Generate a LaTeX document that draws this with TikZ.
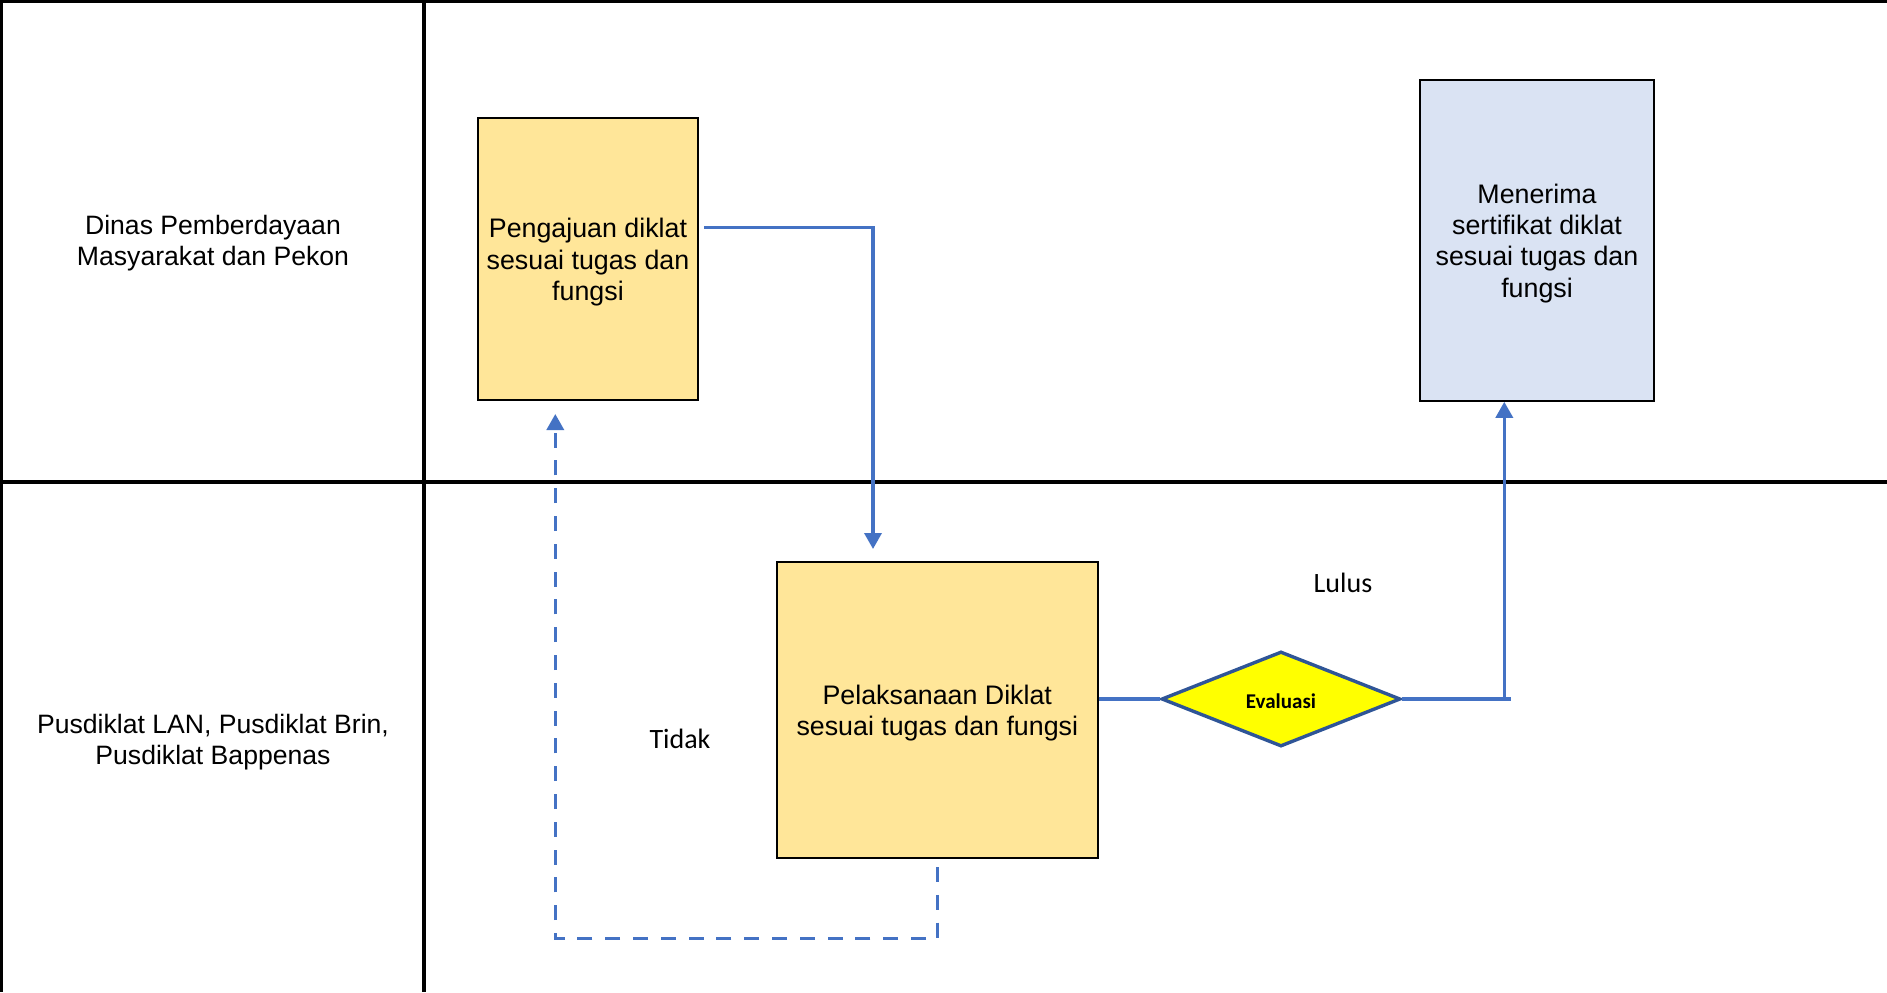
\documentclass[tikz,border=0pt]{standalone}
\usepackage{fontspec}
\setmainfont{Liberation Sans}
\newfontfamily\califont{Carlito}
\usetikzlibrary{shapes.geometric,arrows.meta}
\definecolor{boxyellow}{HTML}{FFE699}
\definecolor{boxblue}{HTML}{DAE3F3}
\definecolor{connblue}{HTML}{4472C4}
\definecolor{darkblue}{HTML}{2F5597}
\definecolor{diayellow}{HTML}{FFFF00}
\newcommand\toppad{\rule{0pt}{12.8pt}}
\tikzset{
  laneline/.style={draw=black,line width=1.6pt},
  lanelabel/.style={align=center,font=\fontsize{13.3pt}{15.6pt}\selectfont,inner sep=0pt},
  procbox/.style={draw=black,line width=1.1pt,align=center,inner sep=0pt,
    font=\fontsize{13.4pt}{15.6pt}\selectfont},
  decision/.style={diamond,draw=darkblue,fill=diayellow,line width=1.7pt,inner sep=0pt,
    minimum width=119.5pt,minimum height=47.5pt,font=\califont\bfseries\fontsize{10.5pt}{12pt}\selectfont},
  conn/.style={draw=connblue,line width=1.75pt},
  arr/.style={conn,-{Triangle[width=8.5pt,length=8pt]}},
  dasharr/.style={arr,dash pattern=on 7.5pt off 6.4pt},
  note/.style={font=\califont\fontsize{14pt}{16pt}\selectfont,inner sep=0pt}
}
\begin{document}
\begin{tikzpicture}[x=0.5pt,y=-0.5pt]
\useasboundingbox (0,0) rectangle (1887,992);
\fill[white] (0,0) rectangle (1887,992);
% lanes
\draw[laneline] (0,1.6) -- (1887,1.6);
\draw[laneline] (1.6,0) -- (1.6,992);
\draw[laneline] (424,0) -- (424,992);
\draw[laneline] (0,482) -- (1887,482);
\node[lanelabel] (lane1) at (213,243.5) {Dinas Pemberdayaan\\Masyarakat dan Pekon};
\node[lanelabel] (lane2) at (213,742) {Pusdiklat LAN, Pusdiklat Brin,\\Pusdiklat Bappenas};
% process boxes
\node[procbox,fill=boxyellow,minimum width=110.2pt,minimum height=141pt] (b1) at (588,259)
  {\toppad Pengajuan diklat\\sesuai tugas dan\\fungsi};
\node[procbox,fill=boxblue,minimum width=117pt,minimum height=160.5pt] (b2) at (1537,240.2)
  {\toppad Menerima\\sertifikat diklat\\sesuai tugas dan\\fungsi};
\node[procbox,fill=boxyellow,minimum width=160.3pt,minimum height=148pt] (b3) at (937.3,710)
  {\toppad Pelaksanaan Diklat\\sesuai tugas dan fungsi};
\node[decision] (d) at (1281,699) {\raisebox{-1.3pt}[\height][0pt]{Evaluasi}};
\node[note] (lulus) at (1343,583) {Lulus};
\node[note] (tidak) at (680,739) {Tidak};
% connectors
\coordinate (s0) at (704,227.5);
\coordinate (s1) at (873,549);
\draw[arr] (s0) -| (s1);
\draw[conn] (b3.east |- d.west) -- (d.west);
\coordinate (l1) at (1510.7,699);
\coordinate (l0) at (1504.3,699);
\draw[conn] (d.east) -- (l1);
\draw[arr] (l0) -- (l0 |- b2.south);
\coordinate (t0) at (937.7,867);
\coordinate (tb) at (555.3,938.7);
\coordinate (t1) at (555.3,414);
\draw[dasharr] (t0) |- (tb) -- (t1);
\end{tikzpicture}
\end{document}
